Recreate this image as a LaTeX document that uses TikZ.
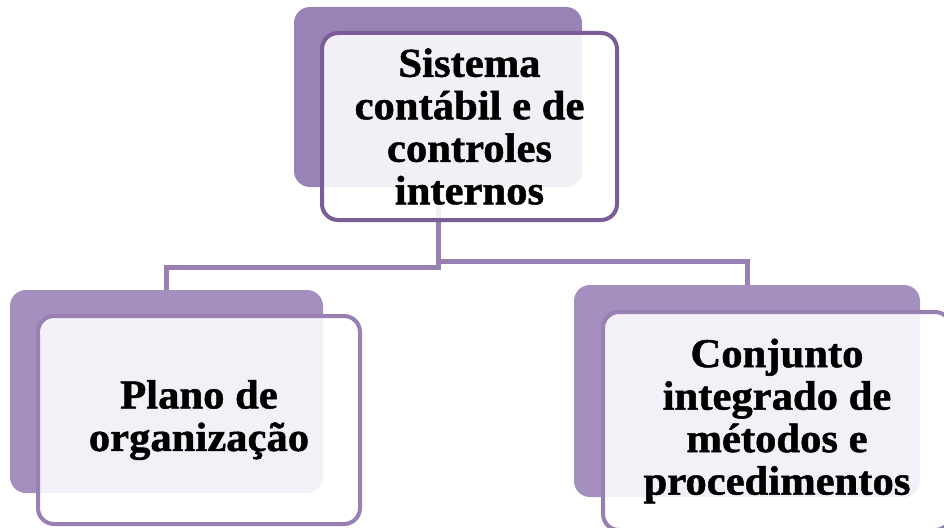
\documentclass[tikz,border=0pt]{standalone}
\usepackage{fontspec}
\setmainfont{Liberation Serif}[FakeStretch=1.04,BoldFeatures={FakeBold=1.2}]
\usepackage{tikz}
\usepackage{xcolor}
\definecolor{topfill}{HTML}{9A82B6}
\definecolor{topline}{HTML}{7A5C98}
\definecolor{lowfill}{HTML}{A48FBF}
\definecolor{lowline}{HTML}{9880B2}
\tikzstyle{backbox} = [rectangle, rounded corners=16pt, inner sep=0pt]
\tikzstyle{frontbox} = [draw, line width=4pt, fill=white, fill opacity=0.88, text opacity=1, rectangle, rounded corners=16pt, align=center, inner sep=0pt, font=\fontsize{41}{42.5}\selectfont\bfseries]
\tikzstyle{link} = [draw=lowline, line width=5pt]

\begin{document}
\begin{tikzpicture}[x=1pt,y=-1pt]
\useasboundingbox (0,0) rectangle (944,527);
% back boxes
\node [backbox, fill=topfill, minimum width=288pt, minimum height=180pt] (topback) at (438,97) {};
\node [backbox, fill=lowfill, minimum width=313pt, minimum height=203pt] (leftback) at (166.5,391.5) {};
\node [backbox, fill=lowfill, minimum width=346pt, minimum height=212pt] (rightback) at (747,391) {};
% connectors
\draw [link] (topback.south) -- ++(0,80) -| (leftback.north);
\draw [link] (topback.south) -- ++(0,74) -| (rightback.north);
% front boxes
\node [frontbox, draw=topline, minimum width=295pt, minimum height=187pt] (system) at (469.5,126.5) {Sistema\\contábil e de\\controles\\internos};
\node [frontbox, draw=lowline, minimum width=322pt, minimum height=208pt] (plan) at (199,420) {Plano de\\organização};
\node [frontbox, draw=lowline, minimum width=348pt, minimum height=218pt] (methods) at (777,421) {Conjunto\\integrado de\\métodos e\\procedimentos};
\end{tikzpicture}
\end{document}
